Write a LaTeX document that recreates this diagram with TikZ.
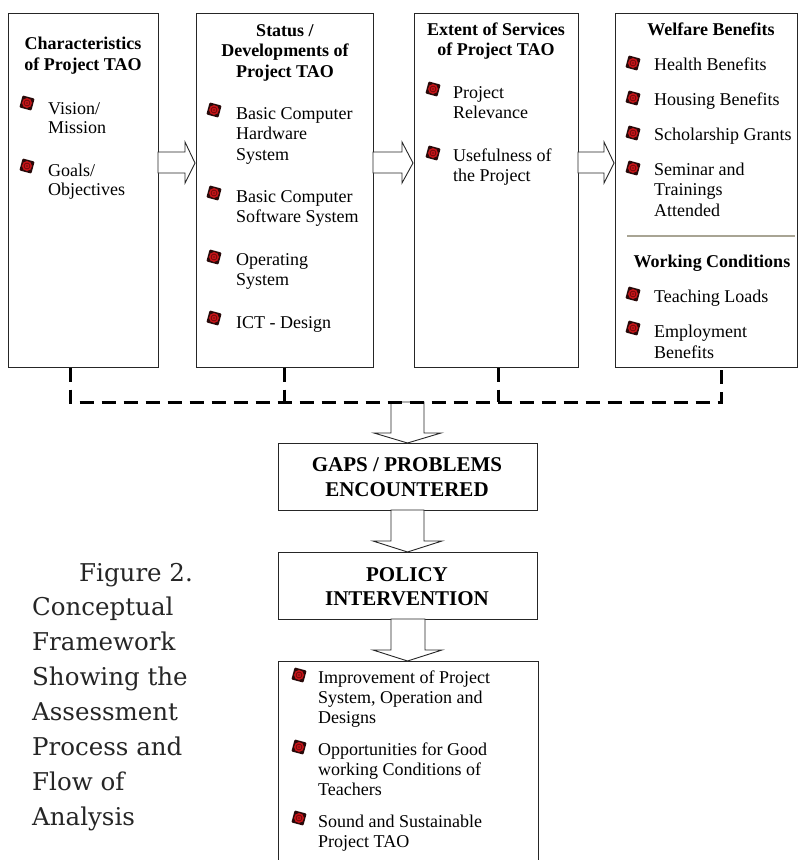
\documentclass[tikz,border=0pt]{standalone}
\usepackage{fontspec}
\setmainfont{Liberation Serif}
\newfontfamily\capfont{DejaVu Serif}
\newcommand\mylines[1]{\begin{tabular}[t]{@{}l@{}}#1\end{tabular}}
\newcommand\myclines[1]{\begin{tabular}[t]{@{}c@{}}#1\end{tabular}}
\definecolor{sepc}{RGB}{168,164,148}
\definecolor{bulsq}{RGB}{40,10,10}
\definecolor{bulred}{RGB}{195,20,24}
\definecolor{bulring}{RGB}{110,8,10}
\begin{document}
\begin{tikzpicture}[x=1pt,y=-1pt,
  box/.style={draw=black!85,line width=1pt,inner sep=0pt},
  txt/.style={anchor=base west,inner sep=0pt,font=\fontsize{18}{20}\selectfont},
  txtb/.style={anchor=base west,inner sep=0pt,font=\fontsize{18}{19}\selectfont},
  ttl/.style={anchor=base,inner sep=0pt,font=\fontsize{18}{21}\selectfont\bfseries},
  bigttl/.style={anchor=base,inner sep=0pt,font=\fontsize{21}{25}\selectfont\bfseries},
  captxt/.style={anchor=base west,inner sep=0pt,text=black!85,font=\capfont\fontsize{24.5}{35}\selectfont},
  blockarrow/.style={draw=black!85,line width=0.9pt,fill=white,line join=miter},
  dashline/.style={line width=3pt,dash pattern=on 14pt off 8pt},
  bul/.pic={
    \fill[bulsq,rotate=-15,rounded corners=1pt] (-6.2,-6.2) rectangle (6.2,6.2);
    \fill[bulred] (0,0) circle (5);
    \draw[bulring,line width=0.7pt] (0,0) circle (2.9);
    \fill[bulring] (0,0) circle (0.9);
  }]
\useasboundingbox (0,0) rectangle (799,860);
\clip (0,0) rectangle (799,860);

% ---- top boxes
\node[box,minimum width=150pt,minimum height=354pt] (b1) at (83,190) {};
\node[box,minimum width=177pt,minimum height=354pt] (b2) at (284.5,190) {};
\node[box,minimum width=164pt,minimum height=354pt] (b3) at (496,190) {};
\node[box,minimum width=182.5pt,minimum height=354pt] (b4) at (706.25,190) {};

% ---- box 1
\node[ttl] (t1) at (83,49) {\myclines{Characteristics\\of Project TAO}};
\pic at (27,103) {bul};
\pic at (27,166) {bul};
\node[txtb] (i11) at (48,114.5) {\mylines{Vision/\\Mission}};
\node[txtb] (i12) at (48,176.5) {\mylines{Goals/\\Objectives}};

% ---- box 2
\node[ttl,font=\fontsize{18}{20.5}\selectfont\bfseries] (t2) at (285,36) {\myclines{Status /\\Developments of\\Project TAO}};
\pic at (214,110) {bul};
\pic at (214,193) {bul};
\pic at (214,257) {bul};
\pic at (214,318) {bul};
\node[txt,font=\fontsize{18}{20.5}\selectfont] (i21) at (236,119) {\mylines{Basic Computer\\Hardware\\System}};
\node[txt,font=\fontsize{18}{20.5}\selectfont] (i22) at (236,202) {\mylines{Basic Computer\\Software System}};
\node[txt,font=\fontsize{18}{20.5}\selectfont] (i23) at (236,265) {\mylines{Operating\\System}};
\node[txt] (i24) at (236,328) {ICT - Design};

% ---- box 3
\node[ttl,font=\fontsize{18}{20}\selectfont\bfseries] (t3) at (496,35) {\myclines{Extent of Services\\of Project TAO}};
\pic at (433,89) {bul};
\pic at (433,153) {bul};
\node[txt] (i31) at (453,98) {\mylines{Project\\Relevance}};
\node[txt] (i32) at (453,161) {\mylines{Usefulness of\\the Project}};

% ---- box 4
\node[ttl] (t4) at (711,35) {Welfare Benefits};
\pic at (633,63) {bul};
\pic at (633,98) {bul};
\pic at (633,133) {bul};
\pic at (633,168) {bul};
\node[txt] (i41) at (654,70) {Health Benefits};
\node[txt] (i42) at (654,105) {Housing Benefits};
\node[txt] (i43) at (654,140) {Scholarship Grants};
\node[txt,font=\fontsize{18}{20.5}\selectfont] (i44) at (654,175) {\mylines{Seminar and\\Trainings\\Attended}};
\draw[sepc,line width=1.8pt] (627,236) -- (795,236);
\node[ttl] (t5) at (712,267) {Working Conditions};
\pic at (633,294) {bul};
\pic at (633,328) {bul};
\node[txt] (i45) at (654,302) {Teaching Loads};
\node[txt,font=\fontsize{18}{21}\selectfont] (i46) at (654,337) {\mylines{Employment\\Benefits}};

% ---- horizontal block arrows
\draw[blockarrow] (158,152) -- (185,152) -- (185,142) -- (195,163) -- (185,183) -- (185,173) -- (158,173) -- cycle;
\draw[blockarrow] (373,152) -- (402,152) -- (402,142) -- (413,163) -- (402,183) -- (402,173) -- (373,173) -- cycle;
\draw[blockarrow] (578,152) -- (604,152) -- (604,142) -- (614,163) -- (604,183) -- (604,173) -- (578,173) -- cycle;

% ---- lower boxes
\node[box,minimum width=259pt,minimum height=67pt] (gaps) at (407.5,476.5) {};
\node[bigttl] (gt) at (407,471.5) {\myclines{GAPS / PROBLEMS\\ENCOUNTERED}};
\node[box,minimum width=259pt,minimum height=67pt] (pol) at (407.5,585.5) {};
\node[bigttl,font=\fontsize{21}{24}\selectfont\bfseries] (pt) at (407,581.5) {\myclines{POLICY\\INTERVENTION}};
\node[box,minimum width=260pt,minimum height=220pt] (res) at (408,771) {};

% ---- down block arrows
\draw[blockarrow] (391,402) -- (391,433) -- (374,433) -- (407.5,443) -- (441,433) -- (424,433) -- (424,402) -- cycle;
\draw[blockarrow] (391,510) -- (391,541) -- (373,541) -- (407.5,552) -- (442,541) -- (424,541) -- (424,510) -- cycle;
\draw[blockarrow] (391,619) -- (391,650) -- (373,650) -- (407.5,661) -- (442,650) -- (425,650) -- (425,619) -- cycle;

% ---- dashed connectors
\coordinate (d1) at (70,402);
\coordinate (d2) at (284,402);
\coordinate (d3) at (498,402);
\coordinate (d4) at (721,402);
\draw[dashline] (d1 |- b1.south) -- (d1) -- (d4) -- (d4 |- b4.south);
\draw[dashline] (d2 |- b2.south) -- (d2);
\draw[dashline] (d3 |- b3.south) -- (d3);

% ---- result box items
\pic at (299,675) {bul};
\pic at (299,747) {bul};
\pic at (299,818) {bul};
\node[txt] (r1) at (318,683) {\mylines{Improvement of Project\\System, Operation and\\Designs}};
\node[txt] (r2) at (318,755) {\mylines{Opportunities for Good\\working Conditions of\\Teachers}};
\node[txt] (r3) at (318,827) {\mylines{Sound and Sustainable\\Project TAO}};

% ---- caption
\node[captxt] (c1) at (79,581) {Figure 2.};
\node[captxt] (c2) at (32,615) {\mylines{Conceptual\\Framework\\Showing the\\Assessment\\Process and\\Flow of\\Analysis}};
\end{tikzpicture}
\end{document}
